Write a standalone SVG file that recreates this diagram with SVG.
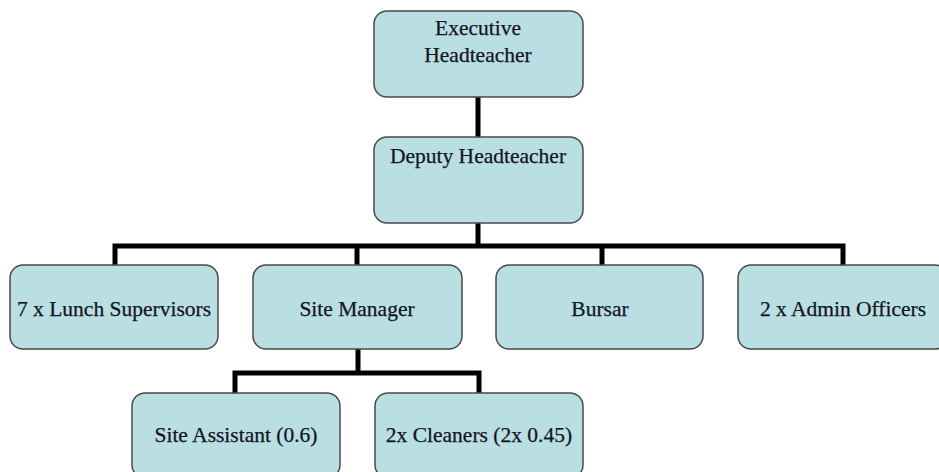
<svg xmlns="http://www.w3.org/2000/svg" width="939" height="472" viewBox="0 0 939 472">
<style>
.box{fill:#b9dfe3;stroke:#4a4a4a;stroke-width:1.5}
.lbl{font-size:21.5px;fill:#14141e;stroke:#14141e;stroke-width:0.25;text-anchor:middle}
.con{fill:none;stroke:#000;stroke-width:5;stroke-linejoin:miter;stroke-linecap:butt}
</style>
<rect width="939" height="472" fill="#fff"/>
<g id="connectors">
<path class="con" d="M478 97V137"/>
<path class="con" d="M478 223V246"/>
<path class="con" d="M115 265V246H843V265"/>
<path class="con" d="M357 246V265"/>
<path class="con" d="M602 246V265"/>
<path class="con" d="M358 349V373"/>
<path class="con" d="M235 393V373H479V393"/>
</g>
<g font-family="Liberation Serif, Times New Roman, DejaVu Serif, serif">
<g id="executive">
<rect class="box" x="374" y="11" width="209" height="86" rx="13"/>
<text class="lbl" x="478" y="35">Executive</text>
<text class="lbl" x="478" y="62">Headteacher</text>
</g>
<g id="deputy">
<rect class="box" x="374" y="137" width="209" height="86" rx="13"/>
<text class="lbl" x="478" y="163">Deputy Headteacher</text>
</g>
<g id="lunch">
<rect class="box" x="10" y="265" width="208" height="84" rx="13"/>
<text class="lbl" x="114" y="316">7 x Lunch Supervisors</text>
</g>
<g id="site-manager">
<rect class="box" x="253" y="265" width="209" height="84" rx="13"/>
<text class="lbl" x="357" y="316">Site Manager</text>
</g>
<g id="bursar">
<rect class="box" x="496" y="265" width="207" height="84" rx="13"/>
<text class="lbl" x="600" y="316">Bursar</text>
</g>
<g id="admin">
<rect class="box" x="738" y="265" width="210" height="84" rx="13"/>
<text class="lbl" x="843" y="316">2 x Admin Officers</text>
</g>
<g id="site-assistant">
<rect class="box" x="132" y="393" width="208" height="85" rx="13"/>
<text class="lbl" x="236" y="442">Site Assistant (0.6)</text>
</g>
<g id="cleaners">
<rect class="box" x="375" y="393" width="208" height="85" rx="13"/>
<text class="lbl" x="479" y="442">2x Cleaners (2x 0.45)</text>
</g>
</g>
</svg>
